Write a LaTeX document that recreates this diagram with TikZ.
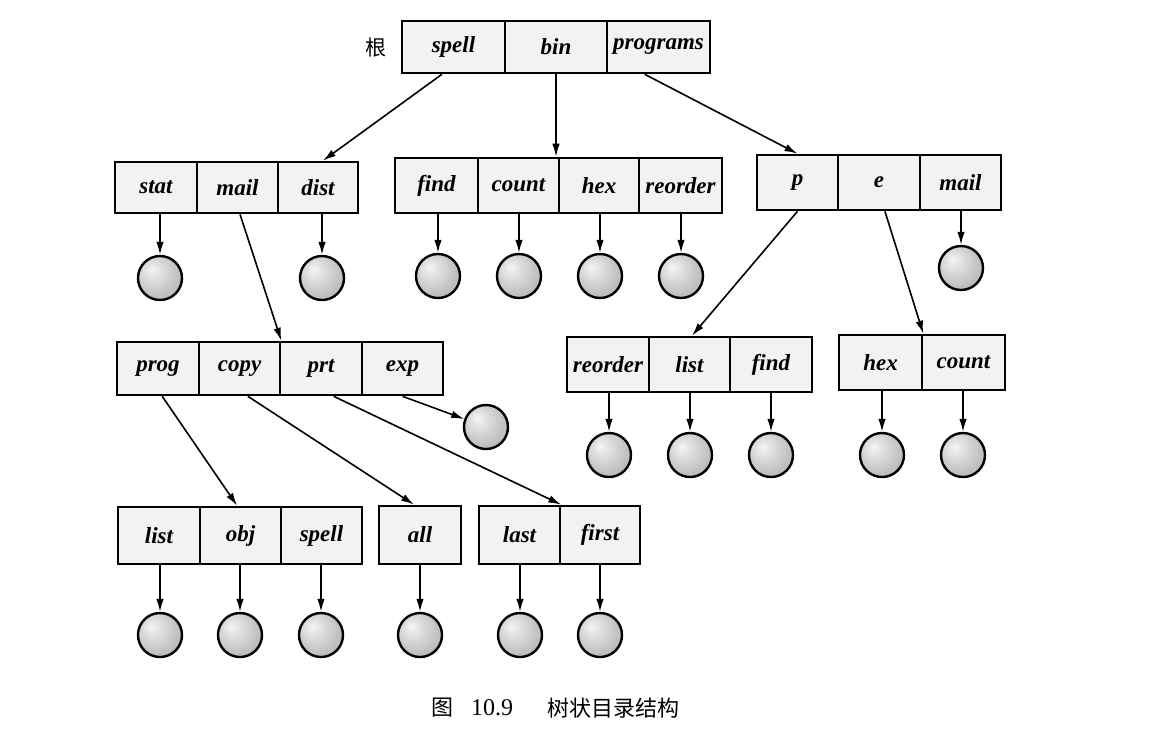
\documentclass[tikz,border=0pt]{standalone}
\usepackage{fontspec}
\setmainfont{Liberation Serif}
\newfontfamily\cjk{Noto Sans CJK SC}
\usetikzlibrary{arrows.meta,calc}

% soft grey shading for files, lit from the upper left
\pgfdeclareradialshading{fileshade}{\pgfpoint{-10bp}{10bp}}{%
  color(0bp)=(gray!8); color(10bp)=(gray!25); color(25bp)=(gray!48);
  color(40bp)=(gray!62); color(60bp)=(gray!70)}

% one cell of a directory block: name, x0, x1, y0, y1, entry
\newcommand\dircell[6]{%
  \node[cell, minimum width={#3-#2}, minimum height={#5-#4}] (#1)
    at ({(#2+#3)/2},{(#4+#5)/2}) {#6};}
% a file (leaf) ball: name, x, y
\newcommand\leafball[3]{\node[fileball] (#1) at (#2,#3) {};}
% arrow from a cell straight down to its file
\newcommand\tofile[2]{\draw[link] (#1.south -| #2) -- (#2.north);}

\tikzset{
  cell/.style={draw, line width=2.6pt, fill=gray!10, inner sep=0pt,
    font=\fontsize{23}{25}\selectfont\bfseries\itshape},
  fileball/.style={circle, draw, line width=2.4pt, minimum size=44pt,
    inner sep=0pt, shading=fileshade},
  link/.style={line width=1.6pt, -{Latex[length=13pt,width=7.5pt]}},
}

\begin{document}
\begin{tikzpicture}[x=1pt, y=-1pt]
\useasboundingbox[fill=white] (0,0) rectangle (1170,732);

% root directory
\node[font=\cjk\fontsize{21}{22}\selectfont] (rootlabel) at (376,48) {根};
\dircell{r-spell}{402}{505}{21}{73}{spell}
\dircell{r-bin}{505}{607}{21}{73}{bin}
\dircell{r-prog}{607}{710}{21}{73}{programs}

% second level
\dircell{a-stat}{115}{197}{162}{213}{stat}
\dircell{a-mail}{197}{278}{162}{213}{mail}
\dircell{a-dist}{278}{358}{162}{213}{dist}

\dircell{b-find}{395}{478}{158}{213}{find}
\dircell{b-count}{478}{559}{158}{213}{count}
\dircell{b-hex}{559}{639}{158}{213}{hex}
\dircell{b-reorder}{639}{722}{158}{213}{reorder}

\dircell{c-p}{757}{838}{155}{210}{p}
\dircell{c-e}{838}{920}{155}{210}{e}
\dircell{c-mail}{920}{1001}{155}{210}{mail}

% third level
\dircell{d-prog}{117}{199}{342}{395}{prog}
\dircell{d-copy}{199}{280}{342}{395}{copy}
\dircell{d-prt}{280}{362}{342}{395}{prt}
\dircell{d-exp}{362}{443}{342}{395}{exp}

\dircell{e-reorder}{567}{649}{337}{392}{reorder}
\dircell{e-list}{649}{730}{337}{392}{list}
\dircell{e-find}{730}{812}{337}{392}{find}

\dircell{f-hex}{839}{922}{335}{390}{hex}
\dircell{f-count}{922}{1005}{335}{390}{count}

% fourth level
\dircell{g-list}{118}{200}{507}{564}{list}
\dircell{g-obj}{200}{281}{507}{564}{obj}
\dircell{g-spell}{281}{362}{507}{564}{spell}
\dircell{h-all}{379}{461}{506}{564}{all}
\dircell{i-last}{479}{560}{506}{564}{last}
\dircell{i-first}{560}{640}{506}{564}{first}

% files
\leafball{fa-stat}{160}{278}
\leafball{fa-dist}{322}{278}
\leafball{fb-find}{438}{276}
\leafball{fb-count}{519}{276}
\leafball{fb-hex}{600}{276}
\leafball{fb-reorder}{681}{276}
\leafball{fc-mail}{961}{268}
\leafball{fd-exp}{486}{427}
\leafball{fe-reorder}{609}{455}
\leafball{fe-list}{690}{455}
\leafball{fe-find}{771}{455}
\leafball{ff-hex}{882}{455}
\leafball{ff-count}{963}{455}
\leafball{fg-list}{160}{635}
\leafball{fg-obj}{240}{635}
\leafball{fg-spell}{321}{635}
\leafball{fh-all}{420}{635}
\leafball{fi-last}{520}{635}
\leafball{fi-first}{600}{635}

% directory links
\draw[link] ($(r-spell.south west)!0.39!(r-spell.south east)$) --
            ($(a-dist.north west)!0.56!(a-dist.north east)$);
\draw[link] (r-bin.south) -- (r-bin.south |- b-count.north);
\draw[link] ($(r-prog.south west)!0.37!(r-prog.south east)$) -- (c-p.north);
\draw[link] ($(a-mail.south west)!0.53!(a-mail.south east)$) -- (d-copy.north east);
\draw[link] (c-p.south) -- ($(e-list.north west)!0.53!(e-list.north east)$);
\draw[link] ($(c-e.south west)!0.57!(c-e.south east)$) -- (f-hex.north east);
\draw[link] ($(d-prog.south west)!0.55!(d-prog.south east)$) --
            ($(g-obj.north west)!0.46!(g-obj.north east)$);
\draw[link] ($(d-copy.south west)!0.6!(d-copy.south east)$) --
            ($(h-all.north west)!0.43!(h-all.north east)$);
\draw[link] ($(d-prt.south west)!0.65!(d-prt.south east)$) -- (i-last.north east);
\draw[link] (d-exp.south) -- (fd-exp);

% file links
\tofile{a-stat}{fa-stat}
\tofile{a-dist}{fa-dist}
\tofile{b-find}{fb-find}
\tofile{b-count}{fb-count}
\tofile{b-hex}{fb-hex}
\tofile{b-reorder}{fb-reorder}
\tofile{c-mail}{fc-mail}
\tofile{e-reorder}{fe-reorder}
\tofile{e-list}{fe-list}
\tofile{e-find}{fe-find}
\tofile{f-hex}{ff-hex}
\tofile{f-count}{ff-count}
\tofile{g-list}{fg-list}
\tofile{g-obj}{fg-obj}
\tofile{g-spell}{fg-spell}
\tofile{h-all}{fh-all}
\tofile{i-last}{fi-last}
\tofile{i-first}{fi-first}

% caption
\node[font=\cjk\fontsize{22}{24}\selectfont] (cap-fig) at (442,708) {图};
\node[font=\fontsize{24}{26}\selectfont] (cap-num) at (492,708) {10.9};
\node[font=\cjk\fontsize{22}{24}\selectfont, anchor=west] (cap-title) at (544,708) {树状目录结构};
\end{tikzpicture}
\end{document}
